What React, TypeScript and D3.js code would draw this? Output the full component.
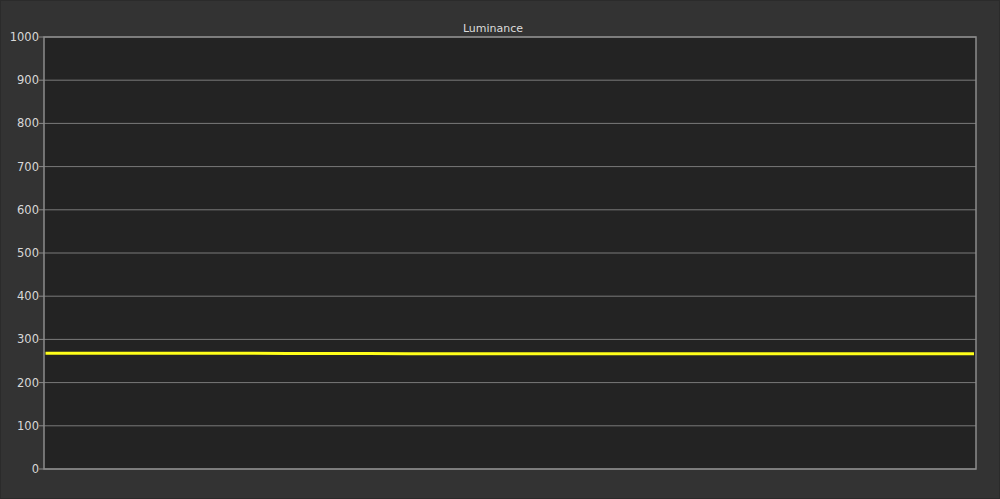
import * as React from "react";
import * as d3 from "d3";

// luminance readings (cd/m2) across the run
const luminance: number[] = [
  268, 268, 268, 268, 268, 268, 267.5, 267.5, 267.5, 267, 267, 267, 267, 267,
  266.8, 266.8, 266.8, 266.8, 266.7, 266.7, 266.6, 266.6, 266.5, 266.5,
];
const yTicks: number[] = [0, 100, 200, 300, 400, 500, 600, 700, 800, 900, 1000];
const title = "Luminance";

export default function App() {
  const width = 1000;
  const height = 499;
  const left = 44;
  const right = 976;
  const top = 37;
  const bottom = 469;

  const y = d3.scaleLinear().domain([0, 1000]).range([bottom, top]);
  const x = d3
    .scaleLinear()
    .domain([0, luminance.length - 1])
    .range([left + 1.5, right - 2]);

  const line = d3
    .line<number>()
    .x((_, i) => x(i))
    .y((d) => y(d));

  return (
    <svg
      width={width}
      height={height}
      style={{ position: "absolute", left: 0, top: 0, display: "block" }}
      fontFamily="Tahoma, 'DejaVu Sans', sans-serif"
    >
      <rect x={0} y={0} width={width} height={height} fill="#2b2b2b" />
      <rect x={1} y={1} width={width - 2} height={height - 2} fill="#333333" />
      <rect
        x={left}
        y={top}
        width={right - left}
        height={bottom - top}
        fill="#232323"
      />
      {yTicks.map((t) => (
        <g key={t}>
          <line
            x1={left}
            x2={right}
            y1={y(t)}
            y2={y(t)}
            stroke="#7a7a7a"
            strokeWidth={1}
          />
          <line
            x1={left - 5}
            x2={left}
            y1={y(t)}
            y2={y(t)}
            stroke="#8a8a8a"
            strokeWidth={1}
          />
          <text
            x={left - 5}
            y={y(t)}
            dy="0.35em"
            textAnchor="end"
            fontSize={11.5}
            fill="#d8d8d8"
          >
            {t}
          </text>
        </g>
      ))}
      <rect
        x={left}
        y={top}
        width={right - left}
        height={bottom - top}
        fill="none"
        stroke="#8c8c8c"
        strokeWidth={1.5}
      />
      <path
        d={line(luminance) ?? ""}
        fill="none"
        stroke="#ffff1a"
        strokeWidth={3}
      />
      <text
        x={493}
        y={32}
        textAnchor="middle"
        fontSize={11}
        fill="#dcdcdc"
      >
        {title}
      </text>
    </svg>
  );
}
